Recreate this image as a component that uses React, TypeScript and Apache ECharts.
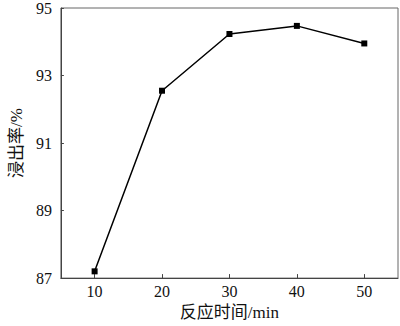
import React, { useEffect, useRef } from "react";
import * as echarts from "echarts";

const times = [10, 20, 30, 40, 50];
const leachRate = [87.2, 92.55, 94.23, 94.47, 93.95];
const xTicks = [10, 20, 30, 40, 50];
const yTicks = [87, 89, 91, 93, 95];

const FONT = "'Liberation Serif', 'Times New Roman', 'Noto Sans CJK SC', serif";

export default function App() {
  const ref = useRef<HTMLDivElement>(null);
  useEffect(() => {
    if (!ref.current) return;
    const chart = echarts.init(ref.current, null, { renderer: "svg" });
    chart.setOption({
      animation: false,
      backgroundColor: "#ffffff",
      grid: {
        left: 51,
        right: 2,
        top: 6,
        bottom: 43,
        containLabel: false,
        show: true,
        borderColor: "#666",
        borderWidth: 1,
      },
      xAxis: {
        type: "value",
        min: 5,
        max: 55,
        name: "反应时间/min",
        nameLocation: "middle",
        nameGap: 21,
        nameTextStyle: { fontFamily: FONT, fontSize: 17, color: "#111", verticalAlign: "top" },
        axisLine: { show: true, lineStyle: { color: "#444", width: 1 } },
        axisTick: { show: true, inside: true, length: 4, customValues: xTicks, lineStyle: { color: "#444" } },
        axisLabel: { customValues: xTicks, fontFamily: FONT, fontSize: 16, color: "#111", margin: 5 },
        splitLine: { show: false },
      },
      yAxis: {
        type: "value",
        min: 87,
        max: 95,
        name: "浸出率/%",
        nameLocation: "middle",
        nameGap: 28,
        nameTextStyle: { fontFamily: FONT, fontSize: 17, color: "#111" },
        axisLine: { show: true, lineStyle: { color: "#444", width: 1 } },
        axisTick: { show: true, inside: true, length: 3, customValues: yTicks, lineStyle: { color: "#444" } },
        axisLabel: { customValues: yTicks, fontFamily: FONT, fontSize: 16, color: "#111", margin: 9 },
        splitLine: { show: false },
      },
      series: [
        {
          type: "line",
          data: times.map((t, i) => [t, leachRate[i]]),
          symbol: "rect",
          symbolSize: 6,
          lineStyle: { color: "#000", width: 1.5 },
          itemStyle: { color: "#000" },
        },
      ],
    });
    return () => chart.dispose();
  }, []);
  return <div ref={ref} style={{ width: 400, height: 326, position: "absolute", left: 0, top: 0 }} />;
}
